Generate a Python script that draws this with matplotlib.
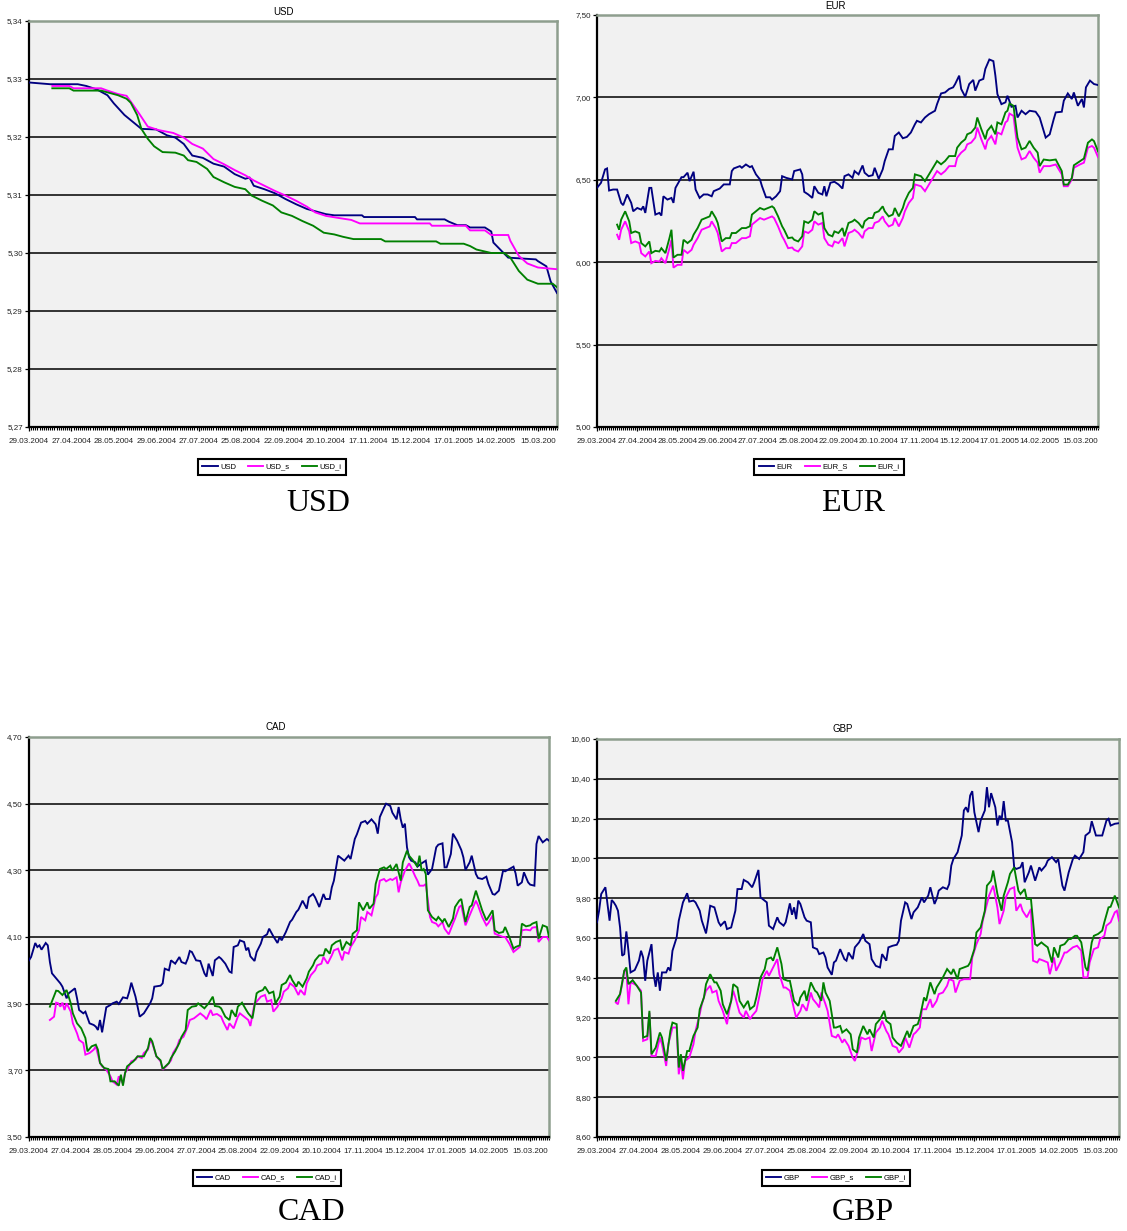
import matplotlib
matplotlib.use('Agg')
import matplotlib.pyplot as plt
from matplotlib.ticker import FixedLocator, MultipleLocator, FuncFormatter

plt.rcParams['font.family'] = ['Liberation Sans', 'DejaVu Sans']

# ---------------- shared x axis (trading-day index) ----------------
date_labels = ['29.03.2004', '27.04.2004', '28.05.2004', '29.06.2004', '27.07.2004',
               '25.08.2004', '22.09.2004', '20.10.2004', '17.11.2004', '15.12.2004',
               '17.01.2005', '14.02.2005', '15.03.200']
label_days = [0, 20, 40, 60, 80, 100, 120, 140, 160, 180, 200, 220, 240]
last_day = 249

# ---------------- USD ----------------
usd_days = [0, 10, 23, 27, 32, 37, 40, 45, 50, 53, 60, 65, 69, 73, 77, 82, 87, 92, 97, 102, 104, 106,
            111, 116, 121, 126, 131, 135, 140, 144, 157, 158, 182, 183, 196, 198, 202, 206, 208, 215,
            218, 219, 223, 226, 239, 240, 244, 246, 249]
usd = [5.3294, 5.3291, 5.3291, 5.3288, 5.3282, 5.3272, 5.3258, 5.3238, 5.3223, 5.3214, 5.3213, 5.3203,
       5.3199, 5.3188, 5.3168, 5.3164, 5.3154, 5.3149, 5.3136, 5.3128, 5.3130, 5.3116, 5.3110, 5.3103,
       5.3093, 5.3084, 5.3076, 5.3072, 5.3067, 5.3065, 5.3065, 5.3062, 5.3062, 5.3058, 5.3058, 5.3054,
       5.3048, 5.3048, 5.3044, 5.3044, 5.3037, 5.3018, 5.3003, 5.2992, 5.2989, 5.2986, 5.2977, 5.2951,
       5.2931]
usd_s_days = [11, 19, 21, 34, 37, 42, 46, 48, 52, 56, 61, 68, 73, 77, 82, 87, 92, 97, 102, 106, 111, 116,
              121, 126, 131, 135, 140, 145, 152, 156, 189, 190, 206, 208, 215, 218, 226, 227, 231, 235,
              240, 249]
usd_s = [5.3288, 5.3288, 5.3284, 5.3284, 5.3280, 5.3274, 5.3271, 5.3261, 5.3240, 5.3218, 5.3212, 5.3207,
         5.3199, 5.3188, 5.3180, 5.3162, 5.3153, 5.3143, 5.3134, 5.3125, 5.3116, 5.3107, 5.3099, 5.3090,
         5.3080, 5.3070, 5.3064, 5.3061, 5.3057, 5.3051, 5.3051, 5.3047, 5.3047, 5.3039, 5.3039, 5.3031,
         5.3031, 5.3021, 5.2995, 5.2982, 5.2975, 5.2972]
usd_i_days = [11, 19, 21, 34, 37, 42, 46, 48, 51, 53, 56, 59, 63, 69, 73, 75, 79, 84, 87, 92, 97, 102, 105,
              110, 115, 119, 124, 129, 134, 139, 144, 148, 153, 166, 168, 192, 194, 205, 208, 211, 218,
              224, 227, 231, 235, 240, 247, 249]
usd_i = [5.3284, 5.3284, 5.3280, 5.3280, 5.3277, 5.3272, 5.3266, 5.3259, 5.3238, 5.3214, 5.3197, 5.3184,
         5.3174, 5.3173, 5.3168, 5.3160, 5.3157, 5.3145, 5.3131, 5.3122, 5.3114, 5.3110, 5.3099, 5.3090,
         5.3082, 5.3070, 5.3064, 5.3055, 5.3047, 5.3035, 5.3032, 5.3028, 5.3024, 5.3024, 5.3020, 5.3020,
         5.3016, 5.3016, 5.3012, 5.3006, 5.3000, 5.3000, 5.2992, 5.2969, 5.2954, 5.2947, 5.2947, 5.2941]
usd_yticks = [5.27, 5.28, 5.29, 5.30, 5.31, 5.32, 5.33, 5.34]

# ---------------- EUR ----------------
eur_days = [0, 2, 4, 5, 6, 8, 10, 12, 13, 15, 17, 18, 20, 22, 23, 24, 26, 27, 29, 31, 32, 33, 35, 37, 38,
            39, 42, 43, 45, 46, 48, 49, 51, 53, 55, 57, 58, 61, 63, 66, 67, 68, 71, 72, 74, 76, 77, 79,
            81, 82, 84, 86, 87, 89, 91, 92, 94, 97, 98, 101, 102, 103, 105, 107, 108, 110, 112, 113, 114,
            116, 118, 120, 122, 123, 125, 127, 128, 130, 132, 133, 135, 137, 138, 140, 142, 143, 145, 147,
            148, 150, 152, 154, 156, 158, 159, 161, 163, 165, 168, 169, 171, 173, 175, 177, 178, 180, 181,
            183, 185, 187, 188, 190, 192, 193, 195, 197, 198, 199, 201, 203, 204, 206, 208, 209, 211, 213,
            215, 218, 220, 222, 223, 225, 227, 228, 231, 232, 234, 236, 237, 239, 241, 242, 243, 245, 247,
            249]
eur = [6.451, 6.482, 6.563, 6.569, 6.435, 6.441, 6.441, 6.360, 6.346, 6.411, 6.360, 6.309, 6.329, 6.319,
       6.339, 6.299, 6.451, 6.451, 6.289, 6.299, 6.283, 6.400, 6.380, 6.390, 6.360, 6.451, 6.516, 6.516,
       6.543, 6.492, 6.549, 6.441, 6.390, 6.411, 6.411, 6.400, 6.431, 6.447, 6.472, 6.472, 6.553, 6.569,
       6.583, 6.573, 6.593, 6.577, 6.583, 6.533, 6.502, 6.461, 6.394, 6.394, 6.380, 6.400, 6.431, 6.522,
       6.512, 6.502, 6.553, 6.563, 6.533, 6.427, 6.411, 6.390, 6.461, 6.421, 6.411, 6.461, 6.400, 6.482,
       6.488, 6.472, 6.447, 6.522, 6.533, 6.512, 6.553, 6.533, 6.587, 6.543, 6.522, 6.528, 6.573, 6.506,
       6.563, 6.614, 6.685, 6.685, 6.766, 6.787, 6.752, 6.760, 6.787, 6.837, 6.858, 6.848, 6.878, 6.898,
       6.919, 6.959, 7.024, 7.030, 7.051, 7.061, 7.081, 7.132, 7.051, 7.004, 7.081, 7.106, 7.041, 7.102,
       7.112, 7.173, 7.230, 7.220, 7.132, 7.020, 6.959, 6.970, 7.010, 6.943, 6.949, 6.878, 6.919, 6.898,
       6.919, 6.913, 6.878, 6.797, 6.756, 6.776, 6.868, 6.909, 6.913, 6.980, 7.024, 6.990, 7.030, 6.949,
       6.990, 6.939, 7.061, 7.102, 7.081, 7.075]
eur_si_days = [10, 11, 12, 14, 16, 17, 19, 21, 22, 24, 26, 27, 29, 31, 32, 34, 36, 37, 38, 40, 42, 43, 45,
               47, 48, 50, 52, 54, 56, 57, 59, 60, 62, 64, 66, 67, 69, 72, 74, 76, 77, 79, 81, 83, 85, 87,
               88, 90, 92, 93, 95, 97, 98, 100, 102, 103, 105, 107, 108, 110, 112, 113, 115, 117, 118, 120,
               122, 123, 125, 127, 128, 130, 132, 133, 135, 137, 138, 140, 142, 143, 145, 147, 148, 150,
               152, 153, 155, 157, 158, 161, 163, 164, 166, 168, 169, 171, 173, 175, 178, 179, 181, 183,
               184, 186, 188, 189, 191, 193, 194, 196, 198, 199, 201, 203, 204, 205, 207, 208, 209, 211,
               213, 215, 217, 219, 220, 222, 225, 228, 231, 232, 234, 236, 237, 240, 242, 244, 246, 247,
               249]
eur_s = [6.167, 6.136, 6.197, 6.248, 6.187, 6.116, 6.126, 6.116, 6.055, 6.035, 6.065, 5.994, 6.008, 6.004,
         6.024, 5.994, 6.085, 6.136, 5.967, 5.984, 5.984, 6.075, 6.055, 6.075, 6.106, 6.146, 6.197, 6.207,
         6.217, 6.248, 6.207, 6.177, 6.065, 6.085, 6.085, 6.116, 6.116, 6.146, 6.146, 6.157, 6.228, 6.248,
         6.268, 6.258, 6.268, 6.278, 6.268, 6.217, 6.157, 6.136, 6.085, 6.089, 6.075, 6.065, 6.096, 6.187,
         6.177, 6.197, 6.248, 6.228, 6.238, 6.146, 6.106, 6.096, 6.126, 6.116, 6.146, 6.096, 6.177, 6.187,
         6.197, 6.177, 6.146, 6.187, 6.207, 6.207, 6.238, 6.248, 6.278, 6.248, 6.217, 6.228, 6.268, 6.217,
         6.268, 6.309, 6.360, 6.390, 6.472, 6.461, 6.431, 6.451, 6.492, 6.533, 6.553, 6.533, 6.553, 6.583,
         6.583, 6.634, 6.665, 6.685, 6.715, 6.726, 6.756, 6.817, 6.746, 6.685, 6.736, 6.766, 6.715, 6.787,
         6.776, 6.848, 6.858, 6.902, 6.888, 6.787, 6.695, 6.624, 6.634, 6.675, 6.634, 6.604, 6.543, 6.583,
         6.583, 6.593, 6.533, 6.461, 6.461, 6.502, 6.573, 6.593, 6.604, 6.695, 6.705, 6.695, 6.638]
eur_i = [6.228, 6.197, 6.258, 6.309, 6.248, 6.177, 6.187, 6.177, 6.116, 6.096, 6.126, 6.055, 6.069, 6.065,
         6.085, 6.055, 6.146, 6.197, 6.028, 6.045, 6.045, 6.136, 6.116, 6.136, 6.167, 6.207, 6.258, 6.268,
         6.278, 6.309, 6.268, 6.238, 6.126, 6.146, 6.146, 6.177, 6.177, 6.207, 6.207, 6.218, 6.289, 6.309,
         6.329, 6.319, 6.329, 6.339, 6.329, 6.278, 6.218, 6.197, 6.146, 6.150, 6.136, 6.126, 6.157, 6.248,
         6.238, 6.258, 6.309, 6.289, 6.299, 6.207, 6.167, 6.157, 6.187, 6.177, 6.207, 6.157, 6.238, 6.248,
         6.258, 6.238, 6.207, 6.248, 6.268, 6.268, 6.299, 6.309, 6.339, 6.309, 6.278, 6.289, 6.329, 6.278,
         6.329, 6.370, 6.421, 6.451, 6.533, 6.522, 6.492, 6.512, 6.553, 6.594, 6.614, 6.594, 6.614, 6.644,
         6.644, 6.695, 6.726, 6.746, 6.776, 6.787, 6.817, 6.878, 6.807, 6.746, 6.797, 6.827, 6.776, 6.848,
         6.837, 6.909, 6.919, 6.963, 6.949, 6.848, 6.756, 6.685, 6.695, 6.736, 6.695, 6.665, 6.583, 6.623,
         6.618, 6.623, 6.553, 6.471, 6.471, 6.512, 6.588, 6.613, 6.629, 6.725, 6.745, 6.735, 6.673]
eur_yticks = [5.00, 5.50, 6.00, 6.50, 7.00, 7.50]

# ---------------- CAD ----------------
cad_days = [0, 1, 3, 4, 5, 6, 8, 9, 10, 11, 13, 15, 16, 18, 19, 21, 22, 23, 24, 26, 27, 29, 31, 32, 33,
            34, 35, 36, 37, 39, 40, 42, 43, 45, 47, 48, 49, 51, 52, 53, 55, 56, 58, 59, 60, 63, 64, 65,
            67, 68, 70, 72, 73, 75, 76, 77, 78, 80, 82, 84, 85, 86, 88, 89, 91, 92, 94, 96, 97, 98, 100,
            101, 103, 104, 105, 106, 108, 109, 111, 112, 114, 115, 117, 119, 120, 121, 123, 125, 126, 128,
            129, 131, 133, 134, 136, 137, 139, 141, 142, 144, 145, 146, 148, 150, 151, 153, 154, 156, 157,
            159, 161, 162, 164, 166, 167, 168, 170, 171, 173, 174, 176, 177, 178, 179, 180, 181, 182, 183,
            185, 186, 188, 190, 191, 193, 195, 196, 198, 199, 200, 202, 203, 205, 207, 208, 209, 211, 212,
            214, 215, 217, 219, 220, 222, 223, 225, 227, 228, 230, 232, 233, 234, 236, 237, 239, 240, 242,
            243, 244, 246, 248, 249]
cad = [4.030, 4.040, 4.082, 4.070, 4.075, 4.062, 4.082, 4.075, 4.025, 3.991, 3.976, 3.961, 3.951, 3.916,
       3.931, 3.941, 3.946, 3.916, 3.881, 3.871, 3.876, 3.841, 3.836, 3.831, 3.821, 3.851, 3.814, 3.851,
       3.889, 3.896, 3.901, 3.906, 3.899, 3.919, 3.916, 3.936, 3.963, 3.921, 3.891, 3.861, 3.871, 3.881,
       3.901, 3.916, 3.951, 3.954, 3.961, 4.005, 4.000, 4.030, 4.020, 4.040, 4.025, 4.020, 4.035, 4.058,
       4.055, 4.030, 4.028, 3.991, 3.981, 4.020, 3.983, 4.030, 4.040, 4.035, 4.020, 3.996, 3.993, 4.070,
       4.075, 4.090, 4.085, 4.060, 4.068, 4.042, 4.028, 4.055, 4.080, 4.100, 4.108, 4.125, 4.102, 4.082,
       4.100, 4.090, 4.115, 4.145, 4.152, 4.175, 4.182, 4.209, 4.185, 4.219, 4.229, 4.219, 4.190, 4.229,
       4.214, 4.214, 4.249, 4.269, 4.344, 4.334, 4.329, 4.344, 4.334, 4.394, 4.408, 4.443, 4.448, 4.440,
       4.453, 4.438, 4.410, 4.460, 4.488, 4.500, 4.493, 4.473, 4.453, 4.490, 4.453, 4.428, 4.440, 4.369,
       4.339, 4.329, 4.324, 4.311, 4.321, 4.329, 4.287, 4.304, 4.369, 4.377, 4.381, 4.309, 4.309, 4.349,
       4.410, 4.389, 4.361, 4.339, 4.301, 4.324, 4.344, 4.289, 4.277, 4.274, 4.281, 4.259, 4.229, 4.227,
       4.239, 4.299, 4.297, 4.304, 4.311, 4.291, 4.254, 4.264, 4.294, 4.264, 4.257, 4.254, 4.379, 4.403,
       4.384, 4.394, 4.389]
cad_s_days = [10, 12, 13, 14, 15, 16, 17, 18, 20, 21, 23, 24, 26, 27, 29, 31, 32, 34, 35, 37, 39, 40, 42,
              43, 45, 46, 47, 49, 51, 52, 54, 55, 57, 58, 59, 61, 63, 64, 66, 68, 69, 71, 72, 74, 76, 77,
              79, 80, 82, 84, 85, 87, 88, 90, 92, 93, 95, 96, 98, 100, 101, 103, 105, 106, 108, 109, 111,
              113, 114, 116, 117, 119, 121, 122, 124, 125, 127, 129, 130, 132, 133, 135, 137, 138, 140,
              141, 143, 145, 146, 148, 150, 151, 153, 154, 156, 158, 159, 161, 162, 164, 166, 167, 168,
              170, 171, 173, 174, 176, 177, 178, 180, 182, 183, 185, 186, 187, 189, 190, 191, 192, 193,
              195, 196, 198, 199, 201, 203, 204, 206, 207, 209, 211, 212, 214, 215, 217, 219, 220, 222,
              223, 225, 227, 228, 230, 232, 233, 235, 236, 238, 240, 241, 243, 244, 246, 248, 249]
cad_s = [3.851, 3.861, 3.903, 3.901, 3.891, 3.903, 3.881, 3.901, 3.876, 3.841, 3.811, 3.791, 3.782, 3.747,
         3.752, 3.762, 3.772, 3.722, 3.712, 3.702, 3.682, 3.667, 3.657, 3.682, 3.660, 3.692, 3.702, 3.727,
         3.732, 3.742, 3.737, 3.752, 3.762, 3.791, 3.782, 3.742, 3.727, 3.702, 3.714, 3.730, 3.752, 3.772,
         3.791, 3.801, 3.831, 3.851, 3.856, 3.861, 3.871, 3.861, 3.853, 3.881, 3.866, 3.869, 3.861, 3.846,
         3.821, 3.841, 3.826, 3.861, 3.871, 3.861, 3.851, 3.833, 3.901, 3.906, 3.921, 3.926, 3.906, 3.911,
         3.876, 3.891, 3.916, 3.936, 3.946, 3.961, 3.951, 3.926, 3.941, 3.926, 3.961, 3.986, 4.000, 4.015,
         4.020, 4.040, 4.020, 4.045, 4.060, 4.065, 4.030, 4.055, 4.050, 4.070, 4.090, 4.120, 4.160, 4.150,
         4.175, 4.165, 4.219, 4.229, 4.269, 4.274, 4.267, 4.274, 4.271, 4.279, 4.234, 4.264, 4.299, 4.321,
         4.309, 4.281, 4.269, 4.254, 4.254, 4.259, 4.209, 4.160, 4.145, 4.140, 4.132, 4.145, 4.125, 4.108,
         4.140, 4.155, 4.190, 4.195, 4.135, 4.165, 4.180, 4.209, 4.195, 4.160, 4.135, 4.142, 4.165, 4.110,
         4.105, 4.100, 4.100, 4.080, 4.055, 4.060, 4.070, 4.120, 4.122, 4.120, 4.128, 4.130, 4.085, 4.100,
         4.100, 4.090]
cad_i_days = [10, 13, 14, 16, 18, 20, 21, 23, 25, 27, 28, 30, 32, 33, 34, 36, 38, 39, 41, 43, 44, 45, 46,
              47, 50, 52, 55, 57, 58, 59, 61, 63, 64, 67, 68, 70, 72, 73, 75, 76, 78, 80, 81, 83, 84, 86,
              88, 89, 91, 92, 94, 96, 97, 99, 100, 102, 104, 105, 107, 109, 110, 112, 113, 115, 117, 118,
              120, 121, 123, 125, 126, 128, 129, 131, 133, 134, 136, 137, 139, 141, 142, 144, 145, 147,
              149, 150, 152, 154, 155, 157, 158, 160, 162, 163, 165, 166, 168, 170, 171, 173, 174, 176,
              178, 179, 181, 182, 184, 186, 187, 188, 189, 190, 191, 193, 195, 196, 198, 199, 201, 203,
              204, 206, 207, 209, 211, 212, 214, 215, 217, 219, 220, 222, 223, 225, 227, 228, 230, 232,
              233, 235, 236, 238, 240, 241, 243, 244, 246, 248, 249]
cad_i = [3.891, 3.939, 3.938, 3.926, 3.941, 3.901, 3.871, 3.841, 3.826, 3.797, 3.757, 3.772, 3.777, 3.762,
         3.722, 3.707, 3.704, 3.667, 3.667, 3.654, 3.687, 3.654, 3.692, 3.712, 3.727, 3.742, 3.742, 3.767,
         3.797, 3.787, 3.742, 3.730, 3.704, 3.722, 3.737, 3.757, 3.782, 3.800, 3.821, 3.881, 3.891, 3.893,
         3.901, 3.891, 3.886, 3.901, 3.921, 3.893, 3.891, 3.886, 3.861, 3.851, 3.881, 3.861, 3.891, 3.903,
         3.881, 3.871, 3.856, 3.931, 3.936, 3.941, 3.951, 3.931, 3.936, 3.901, 3.921, 3.956, 3.963, 3.986,
         3.971, 3.951, 3.966, 3.951, 3.976, 3.996, 4.015, 4.030, 4.045, 4.045, 4.065, 4.050, 4.075, 4.085,
         4.090, 4.060, 4.085, 4.075, 4.110, 4.120, 4.204, 4.180, 4.204, 4.185, 4.200, 4.259, 4.304, 4.309,
         4.304, 4.314, 4.299, 4.319, 4.269, 4.324, 4.359, 4.344, 4.329, 4.311, 4.344, 4.299, 4.304, 4.289,
         4.180, 4.160, 4.150, 4.160, 4.145, 4.155, 4.130, 4.155, 4.190, 4.209, 4.214, 4.145, 4.190, 4.195,
         4.239, 4.219, 4.180, 4.150, 4.160, 4.180, 4.120, 4.112, 4.115, 4.130, 4.100, 4.065, 4.070, 4.075,
         4.140, 4.132, 4.135, 4.140, 4.145, 4.095, 4.135, 4.130, 4.100]
cad_yticks = [3.50, 3.70, 3.90, 4.10, 4.30, 4.50, 4.70]

# ---------------- GBP ----------------
gbp_days = [0, 1, 2, 4, 5, 6, 7, 8, 9, 10, 11, 12, 13, 14, 15, 16, 18, 20, 21, 22, 23, 24, 26, 27, 28,
            29, 30, 31, 33, 34, 35, 36, 38, 39, 41, 43, 44, 46, 47, 49, 50, 52, 53, 54, 56, 58, 59, 61,
            62, 64, 66, 67, 69, 70, 72, 74, 75, 77, 78, 79, 81, 82, 84, 86, 87, 89, 90, 92, 93, 94, 95,
            96, 97, 99, 100, 102, 103, 105, 106, 108, 109, 110, 112, 113, 114, 116, 118, 119, 120, 122,
            123, 125, 127, 128, 130, 131, 133, 135, 136, 138, 139, 141, 143, 144, 145, 147, 148, 150, 151,
            153, 155, 156, 158, 159, 161, 162, 163, 165, 167, 168, 169, 170, 172, 174, 175, 176, 177, 178,
            179, 180, 182, 183, 185, 186, 187, 188, 190, 191, 192, 193, 194, 195, 196, 198, 199, 200, 202,
            203, 204, 206, 207, 209, 211, 212, 214, 215, 217, 219, 220, 222, 223, 225, 227, 228, 230, 232,
            233, 234, 235, 236, 238, 239, 241, 243, 244, 245, 247, 249]
gbp = [9.679, 9.737, 9.821, 9.855, 9.771, 9.687, 9.791, 9.779, 9.762, 9.737, 9.653, 9.511, 9.519, 9.633,
       9.536, 9.427, 9.439, 9.486, 9.536, 9.502, 9.385, 9.486, 9.569, 9.418, 9.355, 9.427, 9.335, 9.427,
       9.427, 9.452, 9.435, 9.536, 9.603, 9.687, 9.779, 9.825, 9.783, 9.788, 9.779, 9.737, 9.687, 9.623,
       9.687, 9.762, 9.754, 9.679, 9.662, 9.684, 9.645, 9.653, 9.737, 9.846, 9.846, 9.892, 9.880, 9.855,
       9.880, 9.942, 9.804, 9.796, 9.779, 9.662, 9.645, 9.704, 9.679, 9.662, 9.679, 9.774, 9.717, 9.754,
       9.695, 9.788, 9.771, 9.704, 9.687, 9.679, 9.553, 9.544, 9.519, 9.527, 9.502, 9.452, 9.415, 9.477,
       9.486, 9.544, 9.494, 9.486, 9.527, 9.494, 9.553, 9.578, 9.620, 9.586, 9.569, 9.494, 9.460, 9.452,
       9.519, 9.486, 9.553, 9.561, 9.566, 9.586, 9.687, 9.779, 9.771, 9.695, 9.729, 9.754, 9.804, 9.779,
       9.813, 9.855, 9.771, 9.796, 9.838, 9.855, 9.846, 9.871, 9.964, 9.997, 10.031, 10.115, 10.241,
       10.257, 10.232, 10.316, 10.338, 10.232, 10.132, 10.190, 10.241, 10.358, 10.257, 10.328, 10.257,
       10.165, 10.215, 10.194, 10.288, 10.190, 10.190, 10.081, 9.955, 9.947, 9.955, 9.981, 9.880, 9.930,
       9.964, 9.888, 9.955, 9.939, 9.964, 9.989, 10.006, 9.981, 9.997, 9.863, 9.838, 9.930, 9.997,
       10.014, 9.997, 10.031, 10.115, 10.123, 10.132, 10.187, 10.115, 10.115, 10.115, 10.190, 10.199,
       10.165, 10.174, 10.177]
gbp_s_days = [9, 10, 12, 13, 14, 15, 16, 18, 19, 21, 22, 24, 25, 26, 28, 30, 31, 33, 34, 36, 38, 39, 40,
              41, 42, 44, 46, 47, 49, 50, 52, 54, 55, 57, 58, 60, 62, 63, 65, 66, 68, 70, 71, 73, 74, 76,
              78, 79, 81, 82, 84, 86, 87, 89, 90, 92, 94, 95, 97, 98, 100, 102, 103, 105, 106, 107, 109,
              110, 112, 114, 115, 117, 118, 120, 122, 123, 125, 126, 128, 130, 131, 133, 135, 136, 138,
              139, 141, 143, 144, 146, 147, 149, 151, 152, 154, 155, 157, 159, 160, 162, 163, 165, 167,
              168, 170, 171, 173, 175, 176, 178, 179, 181, 183, 184, 186, 187, 189, 191, 192, 194, 195,
              197, 199, 200, 202, 203, 205, 207, 208, 210, 211, 213, 215, 216, 218, 219, 221, 223, 224,
              226, 227, 229, 231, 232, 234, 235, 237, 239, 240, 242, 243, 245, 247, 248, 249]
gbp_s = [9.276, 9.267, 9.368, 9.435, 9.435, 9.267, 9.377, 9.368, 9.360, 9.335, 9.083, 9.091, 9.225, 9.007,
         9.007, 9.100, 9.066, 8.957, 9.066, 9.150, 9.150, 8.915, 8.982, 8.890, 8.982, 8.999, 9.066, 9.133,
         9.217, 9.267, 9.335, 9.360, 9.326, 9.335, 9.284, 9.234, 9.167, 9.234, 9.335, 9.301, 9.225, 9.200,
         9.234, 9.192, 9.209, 9.234, 9.335, 9.393, 9.435, 9.410, 9.452, 9.494, 9.418, 9.351, 9.351, 9.335,
         9.242, 9.200, 9.234, 9.267, 9.234, 9.326, 9.293, 9.267, 9.251, 9.326, 9.267, 9.234, 9.108, 9.100,
         9.116, 9.074, 9.091, 9.058, 8.999, 8.982, 9.049, 9.100, 9.091, 9.100, 9.032, 9.125, 9.150, 9.184,
         9.133, 9.116, 9.058, 9.049, 9.024, 9.049, 9.100, 9.049, 9.116, 9.125, 9.150, 9.242, 9.242, 9.293,
         9.251, 9.284, 9.318, 9.326, 9.360, 9.393, 9.385, 9.326, 9.385, 9.393, 9.393, 9.393, 9.502, 9.569,
         9.620, 9.687, 9.771, 9.813, 9.863, 9.754, 9.670, 9.737, 9.804, 9.846, 9.855, 9.737, 9.771, 9.737,
         9.704, 9.746, 9.486, 9.477, 9.494, 9.486, 9.477, 9.418, 9.502, 9.435, 9.477, 9.527, 9.527, 9.544,
         9.553, 9.561, 9.536, 9.402, 9.402, 9.477, 9.544, 9.553, 9.595, 9.611, 9.662, 9.679, 9.729, 9.737,
         9.687]
gbp_i_days = [9, 11, 13, 14, 15, 17, 19, 21, 22, 24, 25, 26, 28, 30, 31, 33, 35, 36, 38, 39, 40, 41, 43,
              44, 46, 48, 49, 51, 52, 54, 56, 57, 59, 60, 62, 64, 65, 67, 68, 70, 72, 73, 75, 76, 78, 80,
              81, 83, 84, 86, 88, 89, 91, 92, 94, 96, 97, 99, 100, 102, 104, 105, 107, 108, 109, 111, 113,
              114, 116, 117, 119, 121, 122, 124, 125, 127, 129, 130, 132, 133, 135, 137, 138, 140, 141,
              143, 145, 146, 148, 149, 151, 153, 154, 156, 157, 159, 161, 162, 164, 165, 167, 169, 170,
              172, 173, 175, 177, 178, 180, 181, 183, 185, 186, 188, 189, 191, 193, 194, 196, 197, 199,
              201, 202, 204, 205, 207, 209, 210, 212, 213, 215, 217, 218, 220, 221, 223, 225, 226, 228,
              229, 231, 233, 234, 236, 237, 239, 241, 242, 244, 245, 247, 249]
gbp_i = [9.284, 9.318, 9.435, 9.452, 9.368, 9.388, 9.360, 9.326, 9.100, 9.108, 9.234, 9.016, 9.049, 9.125,
         9.100, 8.982, 9.133, 9.175, 9.167, 8.949, 9.016, 8.932, 9.032, 9.032, 9.108, 9.150, 9.242, 9.301,
         9.368, 9.418, 9.377, 9.377, 9.335, 9.267, 9.217, 9.284, 9.368, 9.351, 9.284, 9.251, 9.284, 9.242,
         9.259, 9.301, 9.402, 9.444, 9.494, 9.502, 9.486, 9.553, 9.469, 9.393, 9.385, 9.385, 9.284, 9.259,
         9.301, 9.335, 9.284, 9.377, 9.335, 9.326, 9.284, 9.377, 9.326, 9.284, 9.150, 9.150, 9.158, 9.125,
         9.141, 9.116, 9.041, 9.024, 9.100, 9.158, 9.116, 9.141, 9.100, 9.167, 9.192, 9.234, 9.184, 9.167,
         9.100, 9.074, 9.058, 9.083, 9.133, 9.100, 9.158, 9.167, 9.200, 9.301, 9.284, 9.377, 9.318, 9.351,
         9.385, 9.402, 9.444, 9.418, 9.444, 9.393, 9.444, 9.452, 9.460, 9.477, 9.544, 9.628, 9.653, 9.737,
         9.863, 9.888, 9.939, 9.821, 9.737, 9.813, 9.880, 9.922, 9.955, 9.838, 9.821, 9.846, 9.796, 9.796,
         9.569, 9.561, 9.578, 9.569, 9.553, 9.477, 9.553, 9.502, 9.561, 9.569, 9.595, 9.595, 9.611, 9.611,
         9.578, 9.452, 9.435, 9.578, 9.611, 9.620, 9.637, 9.679, 9.754, 9.757, 9.813, 9.754]
gbp_yticks = [8.60, 8.80, 9.00, 9.20, 9.40, 9.60, 9.80, 10.00, 10.20, 10.40, 10.60]

# ---------------- styling ----------------
C_BASE, C_S, C_I = '#000080', '#ff00ff', '#008000'
W, H = 1127, 1231

fig = plt.figure(figsize=(W / 100, H / 100), dpi=100)
fig.patch.set_facecolor('white')


def px_rect(x0, y0, x1, y1):
    return [x0 / W, 1 - y1 / H, (x1 - x0) / W, (y1 - y0) / H]


def comma_fmt(v, pos):
    return f'{v:.2f}'.replace('.', ',')


def panel(rect, title, title_xy, caption, caption_xy, series, yticks, legend_xy):
    ax = fig.add_axes(px_rect(*rect))
    ax.set_facecolor('#f1f1f1')
    for name, d, v, c in series:
        ax.plot(d, v, color=c, lw=1.35, label=name, zorder=3, solid_joinstyle='miter')
    ax.set_xlim(0, last_day)
    ax.set_ylim(yticks[0], yticks[-1])
    ax.yaxis.set_major_locator(FixedLocator(yticks))
    ax.yaxis.set_major_formatter(FuncFormatter(comma_fmt))
    ax.xaxis.set_major_locator(FixedLocator(label_days))
    ax.set_xticklabels(date_labels)
    ax.xaxis.set_minor_locator(MultipleLocator(1))
    ax.grid(axis='y', which='major', color='black', lw=1.1, zorder=1)
    ax.set_axisbelow(True)
    ax.tick_params(axis='y', which='major', direction='out', length=3, width=0.9,
                   labelsize=5.8, pad=1.5, colors='black', labelcolor='#222222')
    ax.tick_params(axis='x', which='major', direction='out', length=3, width=0.9,
                   labelsize=5.8, pad=5, colors='black', labelcolor='#222222')
    ax.tick_params(axis='x', which='minor', direction='out', length=2.5, width=0.8, colors='black')
    for side in ('left', 'bottom'):
        ax.spines[side].set_color('black')
        ax.spines[side].set_linewidth(1.6)
    for side in ('top', 'right'):
        ax.spines[side].set_color('#8e9e8e')
        ax.spines[side].set_linewidth(1.8)
    fig.text(title_xy[0] / W, 1 - title_xy[1] / H, title, ha='center', va='center',
             fontsize=7, family=['Liberation Sans', 'DejaVu Sans'])
    fig.text(caption_xy[0] / W, 1 - caption_xy[1] / H, caption, ha='center', va='center',
             fontsize=23, family=['Liberation Serif', 'DejaVu Serif'])
    leg = ax.legend(loc='center', bbox_to_anchor=(legend_xy[0] / W, 1 - legend_xy[1] / H),
                    bbox_transform=fig.transFigure, ncol=3, fontsize=5.5, frameon=True,
                    fancybox=False, edgecolor='black', facecolor='white', framealpha=1,
                    handlelength=2.0, handletextpad=0.3, columnspacing=1.6, borderpad=0.55)
    leg.get_frame().set_linewidth(1.5)
    return ax


panel((29, 21, 557, 427), 'USD', (283, 12), 'USD', (318, 504),
      [('USD', usd_days, usd, C_BASE), ('USD_s', usd_s_days, usd_s, C_S), ('USD_i', usd_i_days, usd_i, C_I)],
      usd_yticks, (272, 467))
panel((597, 15, 1098, 427), 'EUR', (836, 6), 'EUR', (853, 504),
      [('EUR', eur_days, eur, C_BASE), ('EUR_S', eur_si_days, eur_s, C_S), ('EUR_i', eur_si_days, eur_i, C_I)],
      eur_yticks, (829, 467))
panel((29, 737, 549, 1137), 'CAD', (276, 727), 'CAD', (312, 1213),
      [('CAD', cad_days, cad, C_BASE), ('CAD_s', cad_s_days, cad_s, C_S), ('CAD_i', cad_i_days, cad_i, C_I)],
      cad_yticks, (267, 1178))
panel((597, 739, 1119, 1137), 'GBP', (843, 729), 'GBP', (863, 1213),
      [('GBP', gbp_days, gbp, C_BASE), ('GBP_s', gbp_s_days, gbp_s, C_S), ('GBP_i', gbp_i_days, gbp_i, C_I)],
      gbp_yticks, (836, 1178))

fig.savefig('out.png', dpi=100, facecolor='white')
